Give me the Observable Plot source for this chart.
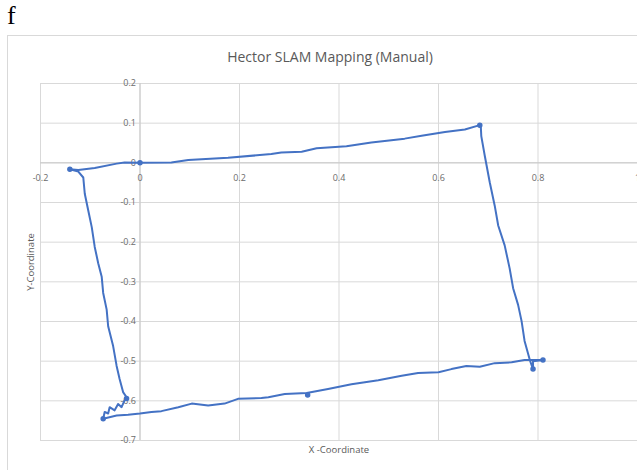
<!DOCTYPE html>
<html>
<head>
<meta charset="utf-8">
<script src="https://cdn.jsdelivr.net/npm/d3@7"></script>
<script src="https://cdn.jsdelivr.net/npm/@observablehq/plot@0.6"></script>
<style>
  body { margin: 0; background: #fff; }
  #wrap { position: relative; width: 637px; height: 470px; overflow: hidden; font-family: "Open Sans", "Liberation Sans", sans-serif; }
  #fig { position: absolute; left: 7px; top: 1px; font: 26px "Liberation Serif", "DejaVu Serif", serif; color: #000; }
  #box { position: absolute; left: 7px; top: 35px; width: 650px; height: 450px; border: 1px solid #d9d9d9; box-sizing: border-box; }
  #title { position: absolute; left: 0; width: 660px; top: 47px; text-align: center; font-size: 14px; color: #595959; }
  #ylab { position: absolute; left: 30px; top: 262px; transform: translate(-50%, -50%) rotate(-90deg); font-size: 9.5px; color: #595959; white-space: nowrap; }
  #chart { position: absolute; left: 0; top: 70px; }
</style>
</head>
<body>
<div id="wrap">
  <div id="fig">f</div>
  <div id="box"></div>
  <div id="title">Hector SLAM Mapping (Manual)</div>
  <div id="ylab">Y-Coordinate</div>
  <div id="chart"></div>
</div>
<script>
const xTicks = [-0.2, 0, 0.2, 0.4, 0.6, 0.8, 1];
const xTickLabels = ["-0.2", "0", "0.2", "0.4", "0.6", "0.8", "1"];
const yTicks = [0.2, 0.1, 0, -0.1, -0.2, -0.3, -0.4, -0.5, -0.6, -0.7];
const yTickLabels = ["0.2", "0.1", "0", "-0.1", "-0.2", "-0.3", "-0.4", "-0.5", "-0.6", "-0.7"];

const pathX = [0, -0.031, -0.047, -0.091, -0.124, -0.141, -0.124,
  -0.114, -0.111, -0.104, -0.097, -0.091, -0.084, -0.077, -0.074, -0.067, -0.064, -0.054, -0.047, -0.041, -0.034, -0.027,
  -0.031, -0.037, -0.044, -0.051, -0.061, -0.064, -0.071, -0.074,
  -0.047, -0.024, 0, 0.023, 0.043, 0.077, 0.104, 0.137, 0.17, 0.197, 0.244, 0.258, 0.291, 0.335, 0.378, 0.425, 0.479, 0.526, 0.559, 0.6, 0.626, 0.656, 0.683, 0.713, 0.747, 0.773, 0.81,
  0.79, 0.79, 0.784,
  0.773, 0.767, 0.76, 0.75, 0.743, 0.733, 0.72, 0.713, 0.703, 0.693, 0.686, 0.685,
  0.683, 0.653, 0.613, 0.566, 0.532, 0.465, 0.415, 0.355, 0.325, 0.284, 0.264, 0.177, 0.097, 0.063, 0];
const pathY = [0, 0.001, -0.002, -0.013, -0.018, -0.016, -0.022,
  -0.037, -0.078, -0.12, -0.162, -0.212, -0.253, -0.287, -0.328, -0.37, -0.412, -0.462, -0.512, -0.545, -0.578, -0.591,
  -0.599, -0.616, -0.608, -0.624, -0.616, -0.632, -0.628, -0.645,
  -0.637, -0.635, -0.632, -0.628, -0.626, -0.616, -0.607, -0.612, -0.607, -0.595, -0.593, -0.591, -0.583, -0.58, -0.57, -0.558, -0.548, -0.537, -0.53, -0.528, -0.52, -0.512, -0.514, -0.505, -0.503, -0.497, -0.497,
  -0.5, -0.52, -0.499,
  -0.449, -0.399, -0.358, -0.316, -0.266, -0.208, -0.158, -0.108, -0.049, 0.018, 0.0675, 0.0925,
  0.095, 0.084, 0.078, 0.068, 0.061, 0.051, 0.042, 0.037, 0.028, 0.026, 0.022, 0.013, 0.007, 0.001, 0];

const markerX = [0, -0.141, 0.683, 0.81, 0.79, 0.337, -0.074, -0.027];
const markerY = [0, -0.016, 0.095, -0.497, -0.52, -0.585, -0.645, -0.594];

const path = pathX.map((x, i) => ({x, y: pathY[i]}));
const markers = markerX.map((x, i) => ({x, y: markerY[i]}));
const xt = xTicks.map((v, i) => ({v, t: xTickLabels[i]}));
const yt = yTicks.map((v, i) => ({v, t: yTickLabels[i]}));

const blue = "#4472C4";
const grid = "#d9d9d9";
const tickColor = "#6b6b6b";

const chart = Plot.plot({
  width: 637,
  height: 400,
  marginLeft: 40,
  marginRight: 0,
  marginTop: 13,
  marginBottom: 30,
  style: {fontFamily: "'Open Sans', 'Liberation Sans', sans-serif", background: "transparent"},
  x: {domain: [-0.2, 1], axis: null},
  y: {domain: [-0.7, 0.2], axis: null},
  marks: [
    Plot.ruleX(xTicks, {stroke: grid, strokeOpacity: 1}),
    Plot.ruleY(yTicks, {stroke: grid, strokeOpacity: 1}),
    Plot.ruleX([0], {stroke: "#c8c8c8"}),
    Plot.ruleY([0], {stroke: "#c8c8c8"}),
    Plot.text(xt, {x: "v", y: () => 0, text: "t", dy: 15, fill: tickColor, fontSize: 9}),
    Plot.text(yt, {x: () => 0, y: "v", text: "t", dx: -4, textAnchor: "end", fill: tickColor, fontSize: 9}),
    Plot.text(["X -Coordinate"], {frameAnchor: "bottom", dy: 12, fill: "#595959", fontSize: 9.5}),
    Plot.line(path, {x: "x", y: "y", stroke: blue, strokeWidth: 2, curve: "linear"}),
    Plot.dot(markers, {x: "x", y: "y", r: 2, fill: blue, stroke: blue})
  ]
});
document.getElementById("chart").appendChild(chart);
</script>
</body>
</html>
